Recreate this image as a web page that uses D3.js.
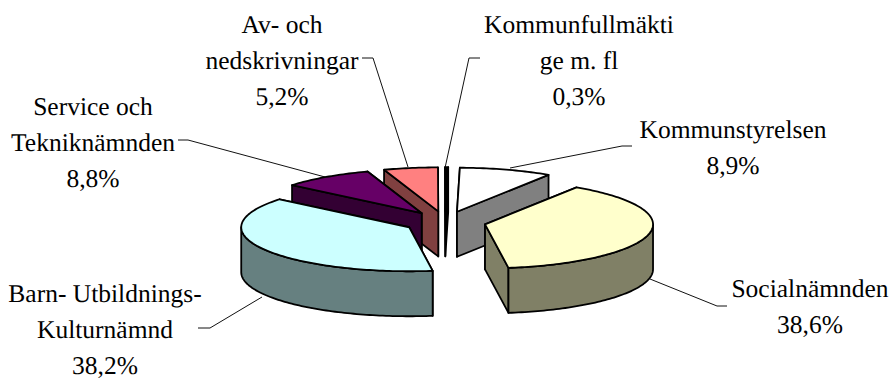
<!DOCTYPE html>
<html>
<head>
<meta charset="utf-8">
<script src="https://cdn.jsdelivr.net/npm/d3@7"></script>
<style>
   html, body { margin: 0; padding: 0; background: #fff; }
   text { font-family: "Liberation Serif", serif; font-size: 25.5px; fill: #000; text-rendering: geometricPrecision; }
</style>
</head>
<body>
<div id="chart"></div>
<script>
var categories = [
   ["Kommunfullmäkti", "ge m. fl"],
   ["Kommunstyrelsen"],
   ["Socialnämnden"],
   ["Barn- Utbildnings-", "Kulturnämnd"],
   ["Service och", "Tekniknämnden"],
   ["Av- och", "nedskrivningar"]
];
var values = [0.3, 8.9, 38.6, 38.2, 8.8, 5.2];
var valueLabels = ["0,3%", "8,9%", "38,6%", "38,2%", "8,8%", "5,2%"];

var topColors = ["#000000", "#ffffff", "#ffffcc", "#ccffff", "#660066", "#ff8080"];
var wallColors = ["#000000", "#808080", "#808066", "#668080", "#330033", "#804040"];

// label centre x and first baseline, same order as categories
var labelAt = [[579, 33], [733, 138], [810, 297], [105, 302], [93, 115], [282, 33]];
var labelStep = 36;

// leader lines, same order as categories
var leaders = [
   [[480, 58], [469, 58], [445, 168]],
   [[632, 146], [622, 146], [510, 168]],
   [[727, 306], [717, 306], [650, 279]],
   [[198, 328], [210, 328], [262, 297]],
   [[178, 140], [188, 140], [325, 177]],
   [[362, 58], [373, 58], [408, 167]]
];

var width = 894;
var height = 381;

var center = { x: 445, y: 222 };
var rx = 168;
var ry = 44;
var depth = 45;
var explode = 41;

var xScale = d3.scaleLinear().domain([-1, 1]).range([-rx, rx]);
var yScale = d3.scaleLinear().domain([-1, 1]).range([-ry, ry]);

var startDeg = -0.1;
var pie = d3.pie()
   .sort(null)
   .startAngle(startDeg * Math.PI / 180)
   .endAngle((startDeg + 360) * Math.PI / 180);

var slices = pie(values).map(function (d, i) {
   var mid = (d.startAngle + d.endAngle) / 2;
   return {
      index: i,
      a0: d.startAngle,
      a1: d.endAngle,
      mid: mid,
      ox: center.x + xScale(Math.sin(mid)) * explode / rx,
      oy: center.y + yScale(-Math.cos(mid)) * explode / rx
   };
});

function rim(s, a, dy) {
   return [s.ox + xScale(Math.sin(a)), s.oy + yScale(-Math.cos(a)) + (dy || 0)];
}

function sweep(s, a0, a1, dy) {
   var n = Math.max(2, Math.ceil((a1 - a0) / 0.02));
   return d3.range(n + 1).map(function (k) {
      return rim(s, a0 + (a1 - a0) * k / n, dy);
   });
}

var line = d3.line();

var svg = d3.select("#chart")
   .append("svg")
   .attr("width", width)
   .attr("height", height)
   .style("display", "block");

// leader lines sit under the pie
svg.append("g").selectAll("path")
   .data(leaders)
   .enter().append("path")
   .attr("d", function (d) { return line(d); })
   .attr("fill", "none")
   .attr("stroke", "#111")
   .attr("stroke-width", 1);

// paint from back to front
var ordered = slices.slice().sort(function (a, b) {
   return Math.cos(b.mid) - Math.cos(a.mid);
});

var pieG = svg.append("g")
   .attr("stroke", "#000")
   .attr("stroke-width", 1.8)
   .attr("stroke-linejoin", "round");

ordered.forEach(function (s) {
   var g = pieG.append("g");
   var wall = wallColors[s.index];

   // radial walls, the one reaching lower on screen goes last
   var ends = [s.a0, s.a1].sort(function (a, b) { return Math.cos(b) - Math.cos(a); });
   ends.forEach(function (a) {
      var p = rim(s, a);
      g.append("path")
         .attr("d", line([[s.ox, s.oy], p, [p[0], p[1] + depth], [s.ox, s.oy + depth]]) + "Z")
         .attr("fill", wall);
   });

   // outer wall, front half only
   var from = Math.max(s.a0, Math.PI / 2);
   var to = Math.min(s.a1, Math.PI * 1.5);
   if (to > from) {
      var upper = sweep(s, from, to, 0);
      var lower = sweep(s, from, to, depth).reverse();
      g.append("path")
         .attr("d", line(upper.concat(lower)) + "Z")
         .attr("fill", wall);
   }

   // top face
   g.append("path")
      .attr("d", line([[s.ox, s.oy]].concat(sweep(s, s.a0, s.a1, 0))) + "Z")
      .attr("fill", topColors[s.index]);
});

// labels
var labels = svg.append("g").selectAll("text")
   .data(categories)
   .enter().append("text")
   .attr("text-anchor", "middle")
   .attr("x", function (d, i) { return labelAt[i][0]; })
   .attr("y", function (d, i) { return labelAt[i][1]; });

labels.each(function (d, i) {
   var t = d3.select(this);
   d.concat([valueLabels[i]]).forEach(function (txt, k) {
      t.append("tspan")
         .attr("x", labelAt[i][0])
         .attr("y", labelAt[i][1] + k * labelStep)
         .text(txt);
   });
});
</script>
</body>
</html>
